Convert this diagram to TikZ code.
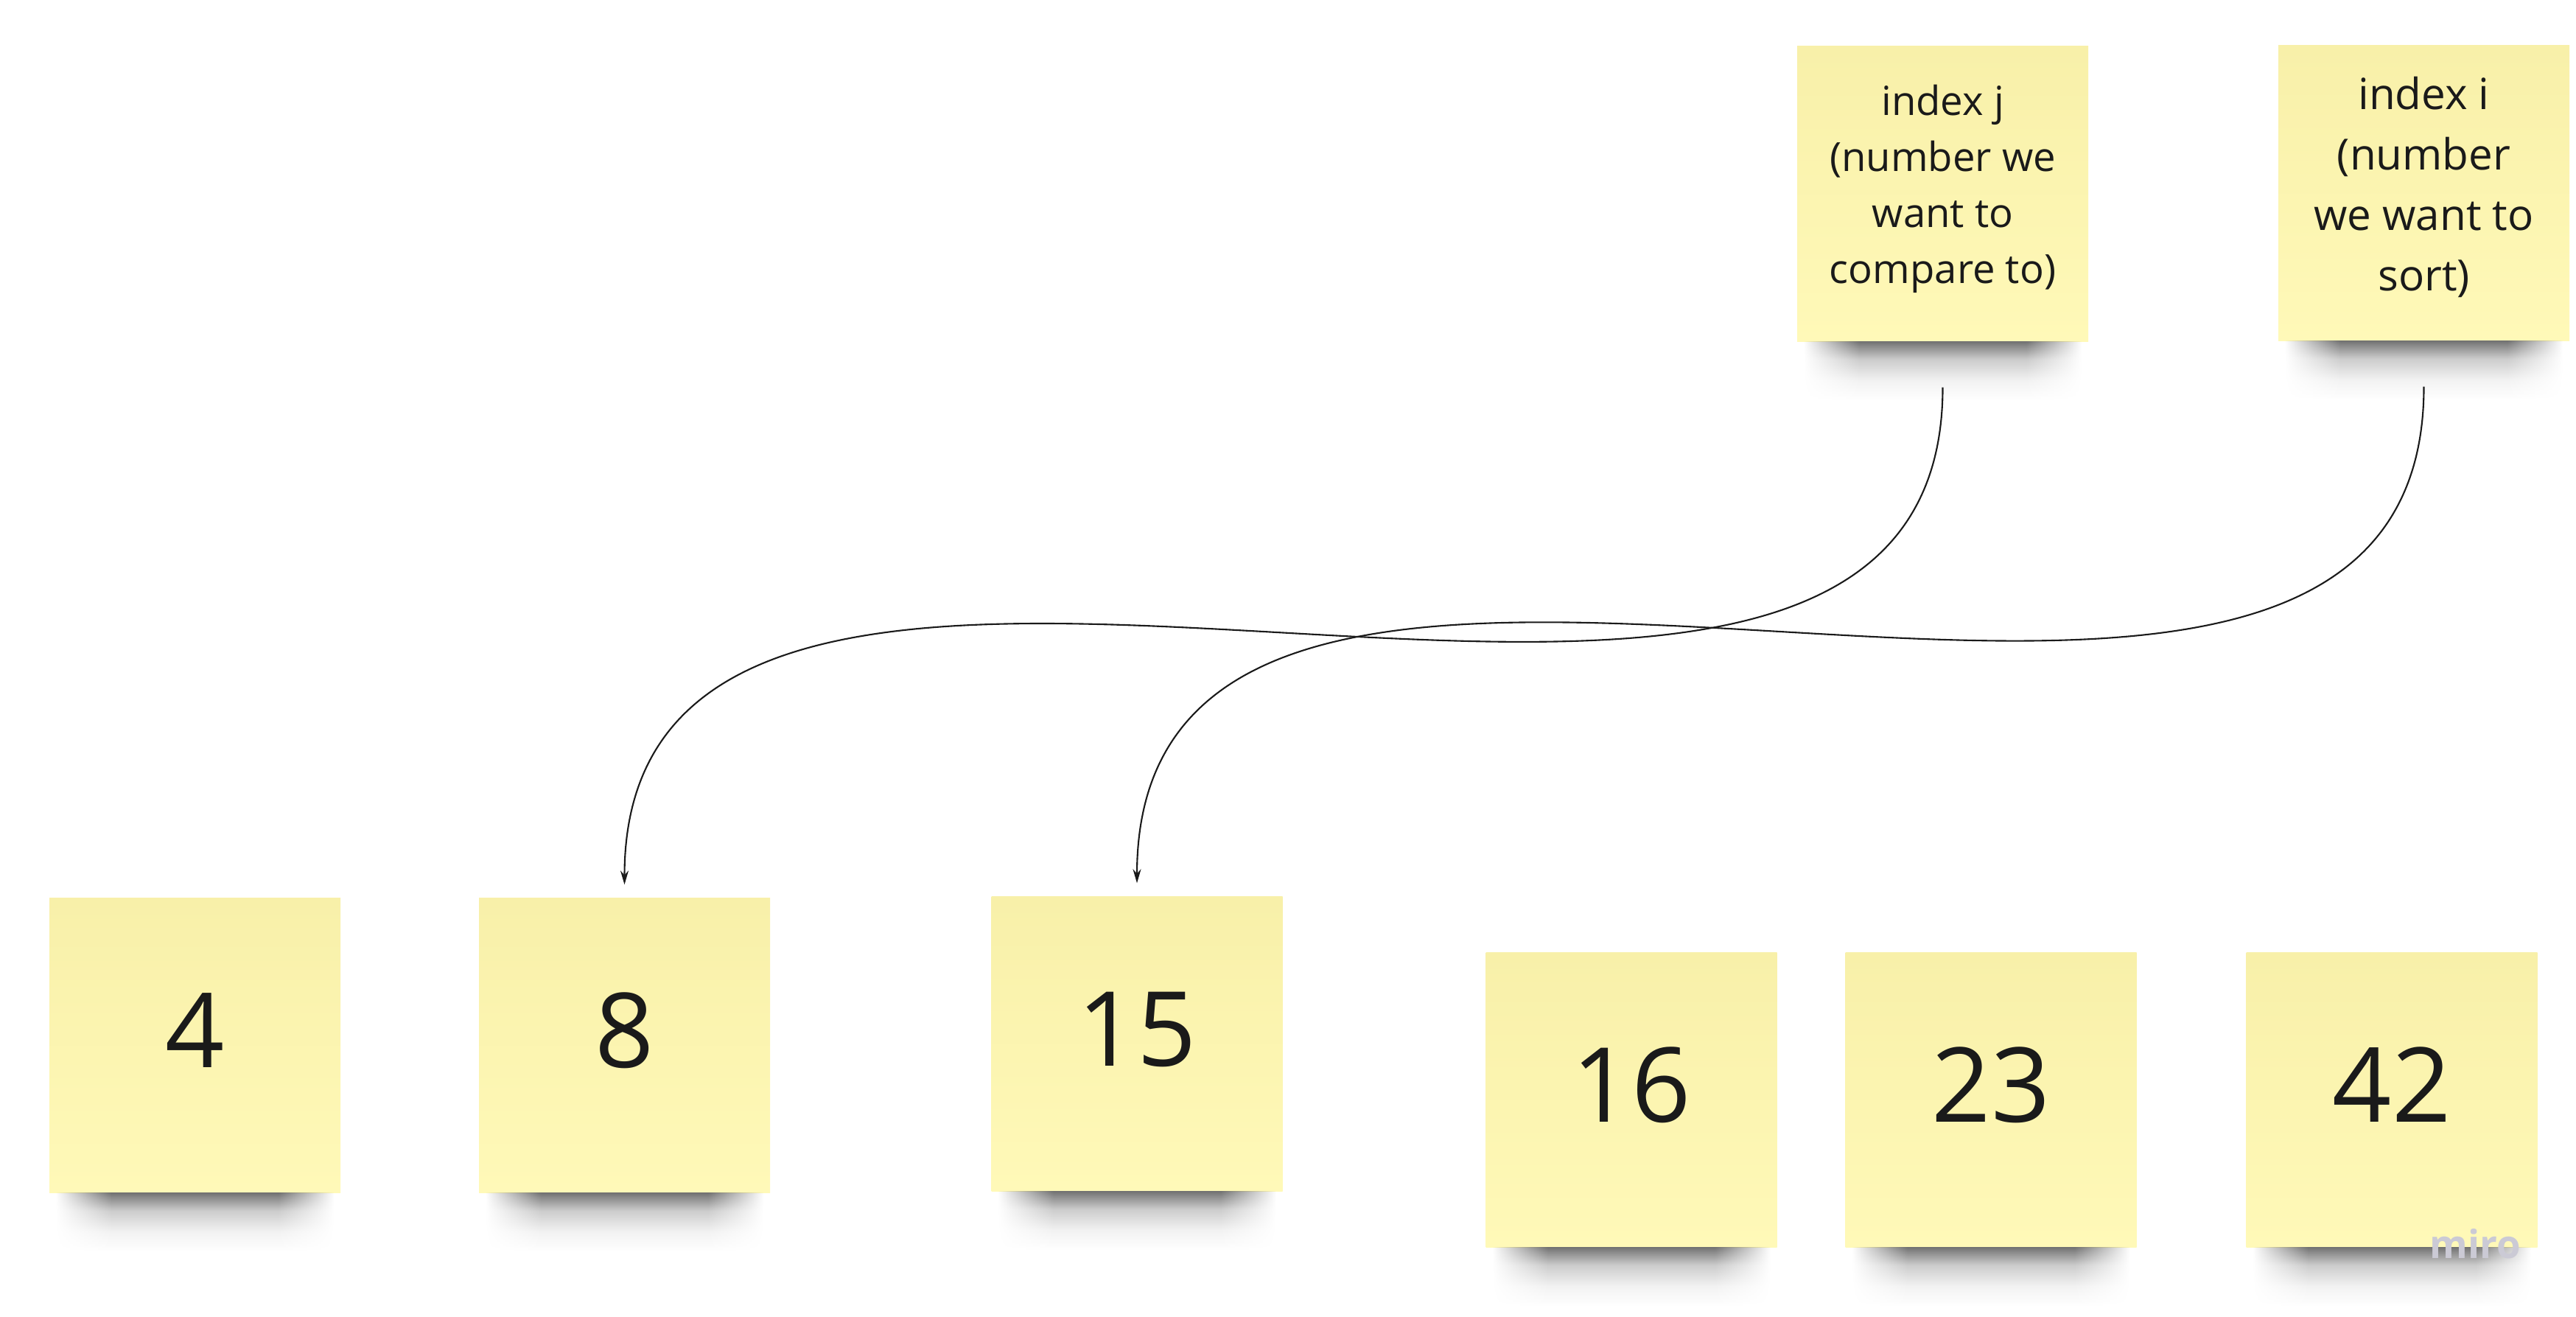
\documentclass[tikz,border=0pt]{standalone}
\usepackage{fontspec}
\setmainfont{Open Sans}
\usetikzlibrary{arrows.meta,fadings}
\definecolor{stickytop}{HTML}{F8F0A9}
\definecolor{stickymid}{HTML}{FEF7B4}
\definecolor{stickybot}{HTML}{FFF9B8}
\definecolor{inkcol}{HTML}{1A1A1A}
\definecolor{wmark}{HTML}{CBCAD5}
% soft ends and soft fall-off for the shadow under each note
\pgfdeclarehorizontalshading{sidemask}{100bp}{color(0bp)=(black); color(25bp)=(black);
  color(35bp)=(white); color(65bp)=(white); color(75bp)=(black); color(100bp)=(black)}
\pgfdeclarefading{fade sides}{\pgfuseshading{sidemask}}
\pgfdeclareverticalshading{shadowfall}{100bp}{color(0bp)=(white); color(25bp)=(white);
  color(42bp)=(black!5); color(60bp)=(black!20); color(71bp)=(black!45); color(75bp)=(black!55);
  color(100bp)=(black!55)}
\begin{document}
\begin{tikzpicture}[
    sticky/.style={minimum width=3.95cm, minimum height=4cm, inner sep=0pt,
      top color=stickytop, middle color=stickymid, bottom color=stickybot,
      text=inkcol, align=center},
    num/.style={sticky, font=\fontsize{40}{48}\selectfont, text depth=0.4cm},
    idxj/.style={sticky, font=\fontsize{15.5}{21.6}\selectfont, text depth=0.26cm},
    idxi/.style={sticky, font=\fontsize{16.6}{23.3}\selectfont, text depth=0.26cm},
    shadowband/.style={path fading=fade sides, shading=shadowfall},
    ptr/.style={-{Stealth[length=1.9mm,width=1.1mm]}, line width=0.6pt, draw=inkcol}
  ]
  \useasboundingbox (0,0) rectangle (34.96,-17.87);
  \draw
    (2.645,-14.18) node[num] (n4){4}
    (8.475,-14.18) node[num] (n8){8}
    (15.43,-14.16) node[num] (n15){15}
    (22.14,-14.92) node[num] (n16){16}
    (27.02,-14.92) node[num] (n23){23}
    (32.46,-14.92) node[num] (n42){42}
    (26.365,-2.63) node[idxj] (idxj){index j\\(number we\\want to\\compare to)}
    (32.895,-2.62) node[idxi] (idxi){index i\\(number\\we want to\\sort)};
  % shadows
  \shade[shadowband] ([xshift=0.1cm]n4.south west) rectangle ([xshift=-0.1cm,yshift=-0.8cm]n4.south east);
  \shade[shadowband] ([xshift=0.1cm]n8.south west) rectangle ([xshift=-0.1cm,yshift=-0.8cm]n8.south east);
  \shade[shadowband] ([xshift=0.1cm]n15.south west) rectangle ([xshift=-0.1cm,yshift=-0.8cm]n15.south east);
  \shade[shadowband] ([xshift=0.1cm]n16.south west) rectangle ([xshift=-0.1cm,yshift=-0.8cm]n16.south east);
  \shade[shadowband] ([xshift=0.1cm]n23.south west) rectangle ([xshift=-0.1cm,yshift=-0.8cm]n23.south east);
  \shade[shadowband] ([xshift=0.1cm]n42.south west) rectangle ([xshift=-0.1cm,yshift=-0.8cm]n42.south east);
  \shade[shadowband] ([xshift=0.1cm]idxj.south west) rectangle ([xshift=-0.1cm,yshift=-0.8cm]idxj.south east);
  \shade[shadowband] ([xshift=0.1cm]idxi.south west) rectangle ([xshift=-0.1cm,yshift=-0.8cm]idxi.south east);
  \node[font=\bfseries\fontsize{15}{18}\selectfont, text=wmark] (wm) at (33.59,-16.88) {miro};
  \coordinate (jtail) at ([yshift=-0.62cm]idxj.south);
  \coordinate (itail) at ([yshift=-0.62cm]idxi.south);
  \begin{scope}[ptr, shorten >=0.17cm]
    \draw (jtail) .. controls +(0,-7.65) and +(0,7.9) .. (n8.north);
    \draw (itail) .. controls +(0,-7.65) and +(0,7.9) .. (n15.north);
  \end{scope}
\end{tikzpicture}
\end{document}
